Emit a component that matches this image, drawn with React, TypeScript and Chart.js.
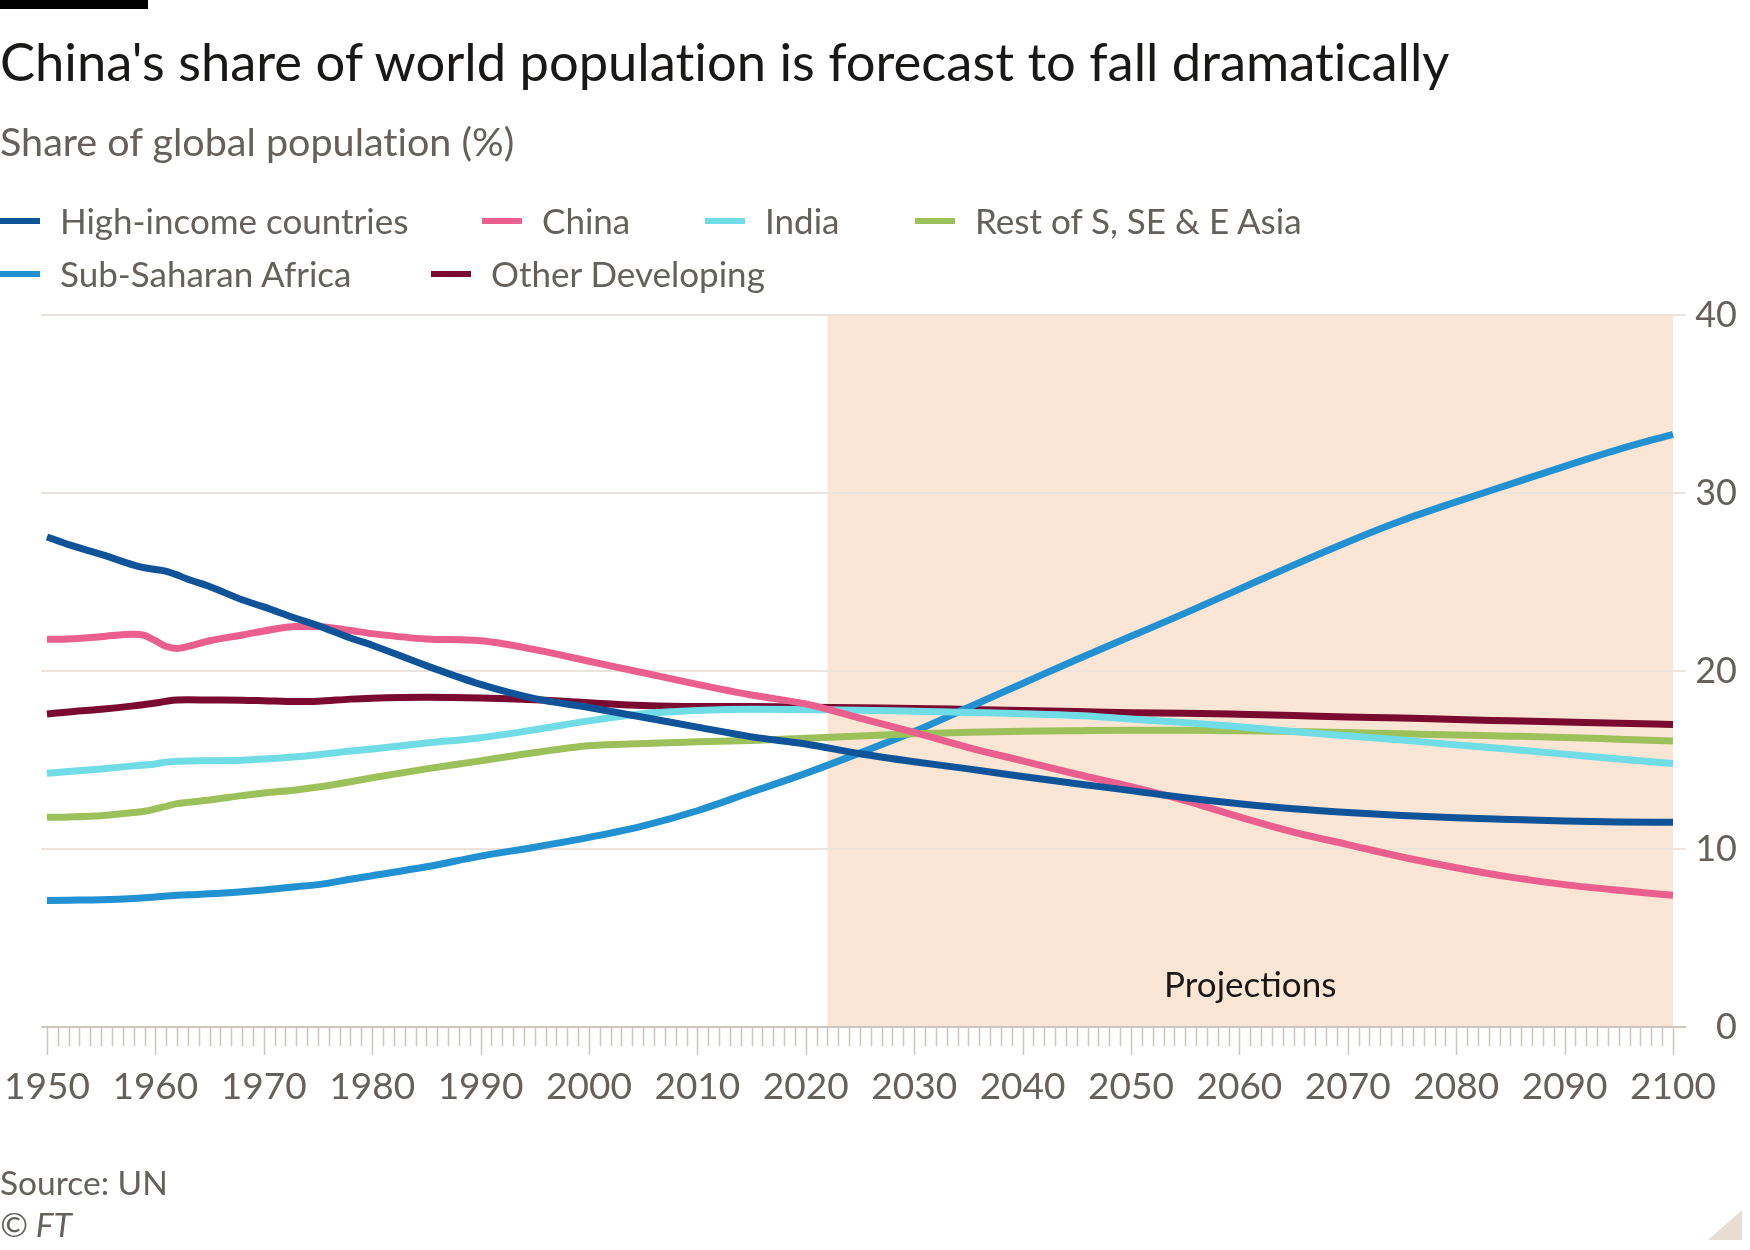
import React, { useEffect, useRef } from 'react';
import { Chart, registerables } from 'chart.js';

Chart.register(...registerables);

// Share of global population (%), UN estimates and projections
const years = [
  1950, 1952, 1955, 1958, 1959, 1960, 1961, 1962, 1963, 1965, 1968, 1970, 1973, 1975,
  1978, 1980, 1985, 1990, 1995, 2000, 2005, 2010, 2015, 2020, 2025, 2030, 2035, 2040,
  2045, 2050, 2055, 2060, 2065, 2070, 2075, 2080, 2085, 2090, 2095, 2100,
];

const highIncome = [
  27.53, 27.1, 26.55, 25.95, 25.8, 25.7, 25.6, 25.4, 25.15, 24.75, 24.0, 23.6, 22.95, 22.55,
  21.85, 21.45, 20.3, 19.25, 18.45, 17.95, 17.4, 16.85, 16.3, 15.9, 15.35, 14.9, 14.5, 14.07,
  13.67, 13.28, 12.88, 12.54, 12.26, 12.05, 11.88, 11.76, 11.66, 11.57, 11.52, 11.5,
];

const china = [
  21.78, 21.8, 21.93, 22.07, 22.0, 21.7, 21.38, 21.27, 21.38, 21.7, 22.02, 22.25, 22.5, 22.5,
  22.27, 22.1, 21.8, 21.7, 21.2, 20.55, 19.9, 19.25, 18.65, 18.15, 17.35, 16.55, 15.7, 14.95,
  14.2, 13.5, 12.72, 11.8, 10.95, 10.25, 9.55, 8.95, 8.42, 8.0, 7.68, 7.4,
];

const india = [
  14.26, 14.35, 14.5, 14.67, 14.72, 14.78, 14.88, 14.93, 14.95, 14.96, 14.99, 15.05, 15.18, 15.3,
  15.5, 15.62, 15.95, 16.25, 16.7, 17.2, 17.6, 17.78, 17.85, 17.83, 17.8, 17.74, 17.67, 17.6,
  17.5, 17.3, 17.1, 16.87, 16.6, 16.36, 16.12, 15.85, 15.6, 15.33, 15.05, 14.8,
];

const restOfAsia = [
  11.78, 11.8, 11.87, 12.05, 12.12, 12.25, 12.4, 12.55, 12.62, 12.75, 13.0, 13.15, 13.32, 13.48,
  13.78, 14.0, 14.5, 14.95, 15.42, 15.8, 15.93, 16.02, 16.1, 16.22, 16.35, 16.48, 16.56, 16.62,
  16.65, 16.67, 16.67, 16.65, 16.6, 16.54, 16.47, 16.4, 16.34, 16.27, 16.17, 16.07,
];

const subSaharanAfrica = [
  7.1, 7.12, 7.15, 7.22, 7.26, 7.3, 7.36, 7.4, 7.43, 7.48, 7.6, 7.7, 7.88, 8.0,
  8.3, 8.5, 9.0, 9.6, 10.1, 10.65, 11.3, 12.15, 13.2, 14.25, 15.4, 16.6, 17.95, 19.3,
  20.65, 21.95, 23.25, 24.6, 25.95, 27.25, 28.45, 29.5, 30.5, 31.5, 32.45, 33.3,
];

const otherDeveloping = [
  17.59, 17.7, 17.85, 18.04, 18.12, 18.2, 18.3, 18.37, 18.38, 18.37, 18.36, 18.33, 18.28, 18.3,
  18.42, 18.47, 18.52, 18.48, 18.38, 18.22, 18.06, 18.0, 18.0, 17.97, 17.93, 17.9, 17.84, 17.78,
  17.72, 17.66, 17.63, 17.57, 17.5, 17.42, 17.36, 17.27, 17.2, 17.13, 17.06, 17.0,
];

const seriesNames = [
  'High-income countries',
  'China',
  'India',
  'Rest of S, SE & E Asia',
  'Sub-Saharan Africa',
  'Other Developing',
];
const seriesValues = [highIncome, china, india, restOfAsia, subSaharanAfrica, otherDeveloping];
const seriesColors = ['#0f5499', '#eb5f8f', '#70dce6', '#9dc15a', '#2191d1', '#7a0a30'];

const xTickLabels = [1950, 1960, 1970, 1980, 1990, 2000, 2010, 2020, 2030, 2040, 2050, 2060, 2070, 2080, 2090, 2100];
const yTickLabels = [0, 10, 20, 30, 40];
const projectionStart = 2022;
const projectionEnd = 2100;

const FONT = 'Lato, "Open Sans", sans-serif';
const GREY = '#66605c';

// where each legend entry sits: [left of swatch, row]
const legendSlots = [
  [0, 0], [482, 0], [705, 0], [915, 0],
  [0, 1], [431, 1],
];

const projectionsPlugin = {
  id: 'projections',
  beforeDraw(chart: Chart) {
    const { ctx, scales } = chart;
    const x = scales.x;
    const y = scales.y;
    const left = x.getPixelForValue(projectionStart);
    const right = x.getPixelForValue(projectionEnd);
    const top = y.getPixelForValue(40);
    const bottom = y.getPixelForValue(0);
    ctx.save();
    ctx.fillStyle = '#fbe6d6';
    ctx.fillRect(left, top, right - left, bottom - top);
    ctx.fillStyle = '#1a1817';
    ctx.font = `35px ${FONT}`;
    ctx.textAlign = 'center';
    ctx.textBaseline = 'middle';
    ctx.fillText('Projections', x.getPixelForValue(2061), y.getPixelForValue(2.3));
    ctx.restore();
  },
  afterDraw(chart: Chart) {
    // year tick marks under the baseline, longer ones at each decade
    const { ctx, scales } = chart;
    const x = scales.x;
    const base = scales.y.getPixelForValue(0);
    ctx.save();
    ctx.strokeStyle = '#cfc6be';
    ctx.lineWidth = 1.5;
    for (let yr = years[0]; yr <= years[years.length - 1]; yr++) {
      const px = Math.round(x.getPixelForValue(yr)) + 0.5;
      const len = yr % 10 === 0 ? 28 : 19;
      ctx.beginPath();
      ctx.moveTo(px, base);
      ctx.lineTo(px, base + len);
      ctx.stroke();
    }
    ctx.restore();
  },
};

const LineChart: React.FC = () => {
  const canvasRef = useRef<HTMLCanvasElement>(null);
  const chartInstance = useRef<Chart | null>(null);

  useEffect(() => {
    if (!canvasRef.current) return;
    if (chartInstance.current) chartInstance.current.destroy();

    const ctx = canvasRef.current.getContext('2d');
    if (!ctx) return;

    chartInstance.current = new Chart(ctx, {
      type: 'line',
      data: {
        datasets: seriesNames.map((name, i) => ({
          label: name,
          data: years.map((yr, j) => ({ x: yr, y: seriesValues[i][j] })),
          borderColor: seriesColors[i],
          backgroundColor: seriesColors[i],
          borderWidth: 7,
          pointRadius: 0,
          cubicInterpolationMode: 'monotone' as const,
          borderCapStyle: 'butt' as const,
          borderJoinStyle: 'round' as const,
        })),
      },
      options: {
        animation: false,
        responsive: true,
        maintainAspectRatio: false,
        layout: { padding: { left: 41, top: 315, right: 13, bottom: 123 } },
        plugins: {
          legend: { display: false },
          tooltip: { enabled: false },
        },
        scales: {
          x: {
            type: 'linear',
            min: 1949.45,
            max: 2101.2,
            afterBuildTicks: (scale: any) => {
              scale.ticks = xTickLabels.map((v) => ({ value: v }));
            },
            afterFit: (scale: any) => {
              scale.height = 100;
              scale.paddingLeft = 0;
              scale.paddingRight = 0;
            },
            grid: { display: false },
            border: { display: false },
            ticks: {
              autoSkip: false,
              maxRotation: 0,
              padding: 30,
              color: GREY,
              font: { family: FONT, size: 37 },
              callback: (v: any) => String(v),
            },
          },
          y: {
            position: 'right',
            min: 0,
            max: 40,
            afterBuildTicks: (scale: any) => {
              scale.ticks = yTickLabels.map((v) => ({ value: v }));
            },
            afterFit: (scale: any) => {
              scale.width = 51;
            },
            border: { display: false },
            grid: {
              drawTicks: false,
              lineWidth: 2,
              color: (c: any) => (c.tick && c.tick.value === 0 ? '#cfc6be' : '#ebe3dc'),
            },
            ticks: {
              crossAlign: 'far',
              padding: 0,
              color: GREY,
              font: { family: FONT, size: 36 },
            },
          },
        },
      },
      plugins: [projectionsPlugin],
    });

    return () => {
      if (chartInstance.current) {
        chartInstance.current.destroy();
        chartInstance.current = null;
      }
    };
  }, []);

  return <canvas ref={canvasRef} />;
};

const textBase: React.CSSProperties = {
  position: 'absolute',
  left: 0,
  lineHeight: 1.2,
  whiteSpace: 'nowrap',
  fontVariantLigatures: 'none',
};

const App: React.FC = () => {
  return (
    <div
      style={{
        position: 'absolute',
        left: 0,
        top: 0,
        width: 1750,
        height: 1250,
        background: '#fff',
        fontFamily: FONT,
        overflow: 'hidden',
      }}
    >
      <div style={{ position: 'absolute', left: 0, top: 0, width: 1750, height: 1250 }}>
        <LineChart />
      </div>

      <div style={{ position: 'absolute', left: 0, top: 0, width: 148, height: 9, background: '#000' }} />

      <div style={{ ...textBase, top: 29, fontSize: 52.5, color: '#1a1817' }}>
        China's share of world population is forecast to fall dramatically
      </div>

      <div style={{ ...textBase, top: 117, fontSize: 39.5, color: GREY }}>
        Share of global population (%)
      </div>

      {seriesNames.map((name, i) => {
        const [left, row] = legendSlots[i];
        const top = 199 + row * 53;
        return (
          <div key={name} style={{ position: 'absolute', left, top, height: 42, whiteSpace: 'nowrap' }}>
            <div
              style={{
                position: 'absolute', left: 0, top: 19, width: 40, height: 6,
                background: seriesColors[i],
              }}
            />
            <div style={{ ...textBase, left: 60, top: 0, fontSize: 35, color: GREY }}>
              {name}
            </div>
          </div>
        );
      })}

      <div style={{ ...textBase, top: 1162, fontSize: 33.5, color: GREY }}>
        Source: UN
      </div>
      <div style={{ ...textBase, top: 1204, fontSize: 33.5, color: GREY, fontStyle: 'italic' }}>
        © FT
      </div>

      <div
        style={{
          position: 'absolute', left: 1708, top: 1210, width: 34, height: 30,
          background: '#e8ddd3', clipPath: 'polygon(100% 0, 100% 100%, 0 100%)',
        }}
      />
    </div>
  );
};

export default App;
